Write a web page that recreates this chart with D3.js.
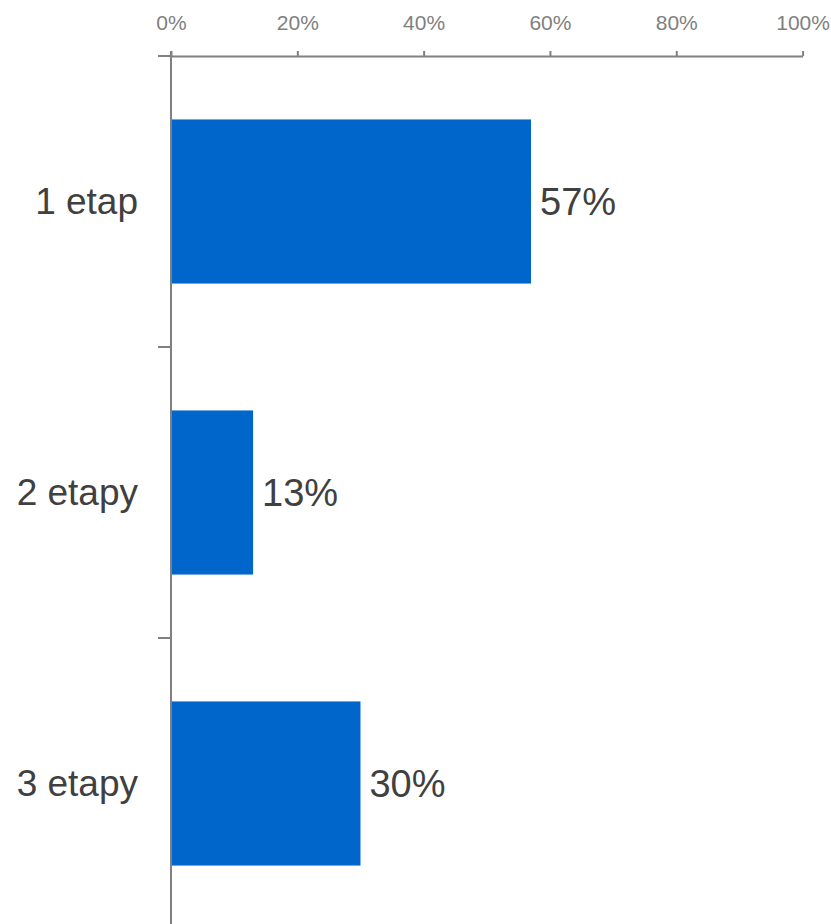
<!DOCTYPE html>
<html>
<head>
<meta charset="utf-8">
<script src="https://cdn.jsdelivr.net/npm/d3@7"></script>
<style>
  html, body { margin: 0; padding: 0; background: #fff; }
  svg { display: block; font-family: Arial, "Liberation Sans", sans-serif; }
</style>
</head>
<body>
<svg id="chart" width="831" height="924"></svg>
<script>
// Share of respondents by number of stages
const categories = ["1 etap", "2 etapy", "3 etapy"];
const values = [57, 13, 30];
const xTicks = [0, 20, 40, 60, 80, 100];

const svg = d3.select("#chart");
const axisColor = "#808080";
const barColor = "#0066CC";
const textColor = "#404040";

const x = d3.scaleLinear().domain([0, 100]).range([171, 802.6]);
const y = d3.scaleBand()
  .domain(categories)
  .range([56, 929])
  .paddingInner(0.436)
  .paddingOuter(0.218);

// Bars
svg.append("g")
  .selectAll("rect")
  .data(values)
  .join("rect")
  .attr("x", x(0))
  .attr("y", (d, i) => y(categories[i]))
  .attr("width", d => x(d) - x(0))
  .attr("height", y.bandwidth())
  .attr("fill", barColor);

// Value labels
svg.append("g")
  .selectAll("text")
  .data(values)
  .join("text")
  .attr("x", d => x(d) + 9)
  .attr("y", (d, i) => y(categories[i]) + y.bandwidth() / 2)
  .attr("dy", "0.35em")
  .attr("font-size", 38)
  .attr("fill", textColor)
  .text(d => d + "%");

// Top percentage axis
const xAxis = svg.append("g")
  .attr("transform", "translate(0,56)")
  .call(d3.axisTop(x)
    .tickValues(xTicks)
    .tickFormat(d => d + "%")
    .tickSize(5)
    .tickSizeOuter(0)
    .tickPadding(21));
xAxis.select(".domain").attr("stroke", axisColor).attr("stroke-width", 2);
xAxis.selectAll(".tick line").attr("stroke", axisColor).attr("stroke-width", 2);
xAxis.selectAll(".tick text")
  .attr("fill", axisColor)
  .attr("font-size", 21)
  .attr("font-family", "Arial, 'Liberation Sans', sans-serif");

// Category axis: vertical line with ticks at band boundaries
const step = y.step();
const boundaries = d3.range(categories.length + 1).map(i => y.range()[0] + i * step);
const yAxis = svg.append("g");
yAxis.append("line")
  .attr("x1", x(0)).attr("x2", x(0))
  .attr("y1", y.range()[0] - 5).attr("y2", y.range()[1])
  .attr("stroke", axisColor).attr("stroke-width", 2);
yAxis.selectAll("line.tick")
  .data(boundaries)
  .join("line")
  .attr("class", "tick")
  .attr("x1", x(0) - 13).attr("x2", x(0))
  .attr("y1", d => d).attr("y2", d => d)
  .attr("stroke", axisColor).attr("stroke-width", 2);
yAxis.selectAll("text")
  .data(categories)
  .join("text")
  .attr("x", x(0) - 33)
  .attr("y", d => y(d) + y.bandwidth() / 2)
  .attr("dy", "0.35em")
  .attr("text-anchor", "end")
  .attr("font-size", 37)
  .attr("fill", textColor)
  .text(d => d);
</script>
</body>
</html>
